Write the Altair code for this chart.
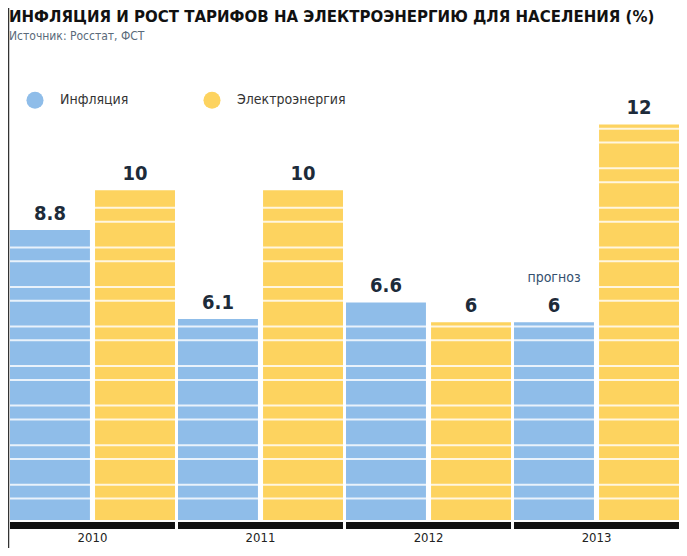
import altair as alt
import pandas as pd

# ---- data ----
years = ["2010", "2011", "2012", "2013"]
series_names = ["Инфляция", "Электроэнергия"]
inflation = [8.8, 6.1, 6.6, 6]
electricity = [10, 10, 6, 12]
labels_infl = ["8.8", "6.1", "6.6", "6"]
labels_elec = ["10", "10", "6", "12"]
note_year = "2013"
note_series = "Инфляция"
note_value = 6
note_text = "прогноз"
title_text = "ИНФЛЯЦИЯ И РОСТ ТАРИФОВ НА ЭЛЕКТРОЭНЕРГИЮ ДЛЯ НАСЕЛЕНИЯ (%)"
subtitle_text = "Источник: Росстат, ФСТ"

# ---- style ----
BLUE = "#8fbde9"
YELLOW = "#fdd35f"
W, H = 669, 445
YMAX = 13.5
FONT = "DejaVu Sans Condensed"

rows = []
for i, yr in enumerate(years):
    rows.append(dict(year=yr, series=series_names[0], value=inflation[i], label=labels_infl[i]))
    rows.append(dict(year=yr, series=series_names[1], value=electricity[i], label=labels_elec[i]))
df = pd.DataFrame(rows)

# decorative white stripes across the bars (style only)
stripes = []
k = 0
while True:
    base = 1.07 + 1.2 * k
    if base > YMAX:
        break
    stripes += [base - 1.2 + 0.78, base]
    k += 1
stripe_df = pd.DataFrame({"s": [s for s in stripes if 0.2 < s < YMAX]})

yscale = alt.Scale(domain=[0, YMAX], nice=False, zero=True)
x_enc = alt.X(
    "year:N", sort=years,
    scale=alt.Scale(paddingInner=0.018, paddingOuter=0),
    axis=alt.Axis(title=None, domain=False, ticks=False, labelAngle=0,
                  labelPadding=11, labelFont=FONT, labelFontSize=13,
                  labelColor="#222222"),
)
xoff = alt.XOffset("series:N", sort=series_names,
                   scale=alt.Scale(paddingInner=0.06, paddingOuter=0))

bars = alt.Chart(df).mark_bar().encode(
    x=x_enc,
    xOffset=xoff,
    y=alt.Y("value:Q", scale=yscale, axis=None),
    color=alt.Color(
        "series:N", sort=series_names,
        scale=alt.Scale(domain=series_names, range=[BLUE, YELLOW]),
        legend=alt.Legend(
            title=None, orient="none", direction="horizontal",
            legendX=16, legendY=16, symbolType="circle", symbolSize=290,
            symbolStrokeWidth=0, labelFont=FONT, labelFontSize=14,
            labelColor="#333333", labelOffset=16, columnPadding=74,
        ),
    ),
)

stripe_layer = alt.Chart(stripe_df).mark_rule(color="white", strokeWidth=2, opacity=0.8).encode(
    y=alt.Y("s:Q", scale=yscale, axis=None),
    x=alt.value(0), x2=alt.value(W),
)

labels = alt.Chart(df).mark_text(
    font=FONT, fontWeight="bold", fontSize=20, color="#1d2b3a", dy=-16, baseline="middle"
).encode(
    x=alt.X("year:N", sort=years),
    xOffset=alt.XOffset("series:N", sort=series_names),
    y=alt.Y("value:Q", scale=yscale, axis=None),
    text="label:N",
)

note_df = pd.DataFrame([dict(year=note_year, series=note_series, value=note_value, t=note_text)])
note = alt.Chart(note_df).mark_text(
    font=FONT, fontSize=14, color="#34506e", dy=-44, baseline="middle"
).encode(
    x=alt.X("year:N", sort=years),
    xOffset=alt.XOffset("series:N", sort=series_names),
    y=alt.Y("value:Q", scale=yscale, axis=None),
    text="t:N",
)

band = alt.Chart(pd.DataFrame({"year": years})).mark_rect(color="#111111").encode(
    x=alt.X("year:N", sort=years),
    y=alt.value(H + 2), y2=alt.value(H + 9),
)

one = pd.DataFrame({"t": [title_text], "s": [subtitle_text]})
border = alt.Chart(one).mark_rule(color="#333333", strokeWidth=1.5).encode(
    x=alt.value(-1.5), y=alt.value(-75), y2=alt.value(H + 40)
)
title = alt.Chart(one).mark_text(
    font="DejaVu Sans", fontWeight="bold", fontSize=15, color="#111111",
    align="left", baseline="alphabetic"
).encode(x=alt.value(-1), y=alt.value(-53), text="t:N")
subtitle = alt.Chart(one).mark_text(
    font=FONT, fontSize=12, color="#5a6a7a", align="left", baseline="middle"
).encode(x=alt.value(-1), y=alt.value(-39), text="s:N")

chart = alt.layer(bars, stripe_layer, labels, note, band, border, title, subtitle).properties(
    width=W, height=H,
    autosize=alt.AutoSizeParams(type="none"),
    padding={"left": 2, "top": 67, "right": 0, "bottom": 28},
    background="white",
).configure_view(stroke=None)

chart.save("out.html", embed_options={"renderer": "svg", "actions": False})
